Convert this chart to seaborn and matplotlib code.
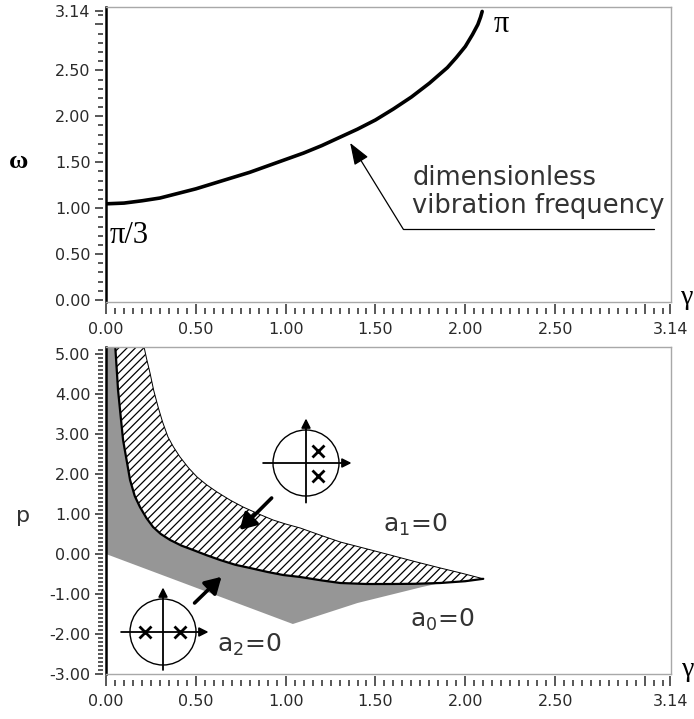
import numpy as np
import matplotlib
matplotlib.use("Agg")
import matplotlib.pyplot as plt
from matplotlib.patches import Circle
import seaborn as sns

# ---------------- data ----------------
# top panel: dimensionless vibration frequency omega(gamma)
gamma_w = [0.0, 0.10, 0.20, 0.30, 0.40, 0.50, 0.60, 0.70, 0.80, 0.90, 1.00,
           1.10, 1.20, 1.30, 1.40, 1.50, 1.60, 1.70, 1.80, 1.90, 1.95, 2.00,
           2.04, 2.07, 2.085, 2.094]
omega = [1.047, 1.055, 1.08, 1.11, 1.16, 1.21, 1.27, 1.33, 1.39, 1.46, 1.53,
         1.60, 1.68, 1.77, 1.86, 1.96, 2.08, 2.21, 2.36, 2.53, 2.64, 2.76,
         2.89, 3.00, 3.08, 3.1416]

# bottom panel: boundaries of the stability regions in the (gamma, p) plane
hatch_lo_x = [0.050, 0.067, 0.095, 0.134, 0.160, 0.189, 0.225, 0.262, 0.305,
              0.357, 0.420, 0.485, 0.560, 0.635, 0.720, 0.802, 0.900, 0.986,
              1.081, 1.200, 1.304, 1.450, 1.582, 1.720, 1.861, 2.000, 2.100]
hatch_lo_y = [5.30, 4.10, 2.85, 1.85, 1.45, 1.175, 0.90, 0.675, 0.50,
              0.35, 0.21, 0.10, -0.03, -0.15, -0.27, -0.35, -0.45, -0.525,
              -0.575, -0.66, -0.725, -0.75, -0.75, -0.745, -0.725, -0.68, -0.62]
hatch_up_x = [0.206, 0.225, 0.245, 0.265, 0.290, 0.315, 0.345, 0.375, 0.412,
              0.460, 0.507, 0.560, 0.618, 0.690, 0.763, 0.850, 0.930, 1.000,
              1.081, 1.200, 1.304, 1.450, 1.582, 1.720, 1.861, 1.980, 2.100]
hatch_up_y = [5.30, 4.90, 4.525, 4.10, 3.675, 3.30, 2.925, 2.68, 2.425,
              2.15, 1.925, 1.73, 1.55, 1.35, 1.175, 1.00, 0.85, 0.75,
              0.65, 0.46, 0.30, 0.13, -0.025, -0.19, -0.35, -0.48, -0.62]
gray_lo_x = [0.0, 1.04, 1.40, 1.76, 1.861]
gray_lo_y = [0.0, -1.75, -1.225, -0.825, -0.725]

# ticks / labels
x_major = [0.0, 0.5, 1.0, 1.5, 2.0, 2.5, 3.0, np.pi]
x_labels = ["0.00", "0.50", "1.00", "1.50", "2.00", "2.50", "", "3.14"]
w_major = [0.0, 0.5, 1.0, 1.5, 2.0, 2.5, 3.0, np.pi]
w_labels = ["0.00", "0.50", "1.00", "1.50", "2.00", "2.50", "", "3.14"]
p_major = [-3, -2, -1, 0, 1, 2, 3, 4, 5]
p_labels = ["-3.00", "-2.00", "-1.00", "0.00", "1.00", "2.00", "3.00", "4.00", "5.00"]

# ---------------- style ----------------
sns.set_theme(style="white")
plt.rcParams["font.family"] = ["DejaVu Sans"]
plt.rcParams["hatch.linewidth"] = 0.9
plt.rcParams["mathtext.fontset"] = "dejavusans"

W, H = 694, 719
fig = plt.figure(figsize=(W / 100, H / 100), dpi=100)
fig.patch.set_facecolor("white")


def rect(l, t, r, b):
    return [l / W, 1 - b / H, (r - l) / W, (b - t) / H]


ax1 = fig.add_axes(rect(106, 7, 671, 302))
ax2 = fig.add_axes(rect(106, 347, 671, 674))

TICK_C = "#2a2a2a"
LAB_C = "#2a2a2a"


def style_axes(ax, h_px, yt, yl, yminor):
    ax.set_facecolor("white")
    ax.set_xticks([])
    ax.set_yticks([])
    for s in ["top", "right", "bottom"]:
        ax.spines[s].set_color("#a8a8a8")
        ax.spines[s].set_linewidth(1.0)
    ax.spines["left"].set_color("black")
    ax.spines["left"].set_linewidth(1.8)
    # x ticks: detached row below the axis
    sx = ax.secondary_xaxis(-12.0 / h_px)
    sx.set_xticks(x_major)
    sx.set_xticklabels(x_labels)
    sx.set_xticks(np.arange(0, 3.11, 0.05), minor=True)
    for sp in sx.spines.values():
        sp.set_visible(False)
    sx.tick_params(which="major", direction="in", length=7.5, width=1.1,
                   color=TICK_C, pad=6, labelsize=11.5, labelcolor=LAB_C)
    sx.tick_params(which="minor", direction="in", length=4.0, width=1.1,
                   color=TICK_C)
    # y ticks: detached column left of the axis
    sy = ax.secondary_yaxis(-3.0 / 565)
    sy.set_yticks(yt)
    sy.set_yticklabels(yl)
    sy.set_yticks(yminor, minor=True)
    for sp in sy.spines.values():
        sp.set_visible(False)
    sy.tick_params(which="major", direction="out", length=6.0, width=1.1,
                   color=TICK_C, pad=3, labelsize=11.5, labelcolor=LAB_C)
    sy.tick_params(which="minor", direction="out", length=3.6, width=1.1,
                   color=TICK_C)


# ---------------- top panel ----------------
ax1.set_xlim(0, 3.145)
ax1.set_ylim(-0.022, 3.19)
sns.lineplot(x=gamma_w, y=omega, ax=ax1, color="black", lw=2.6,
             sort=False, estimator=None)
style_axes(ax1, 295, w_major, w_labels, np.arange(0, 3.11, 0.1))

serif = ["Liberation Serif", "DejaVu Serif"]
ax1.text(0.02, 0.62, "\u03c0/3", fontsize=22, family=serif, color="black",
         ha="left", va="baseline")
ax1.text(2.156, 2.92, "\u03c0", fontsize=22, family=serif, color="black",
         ha="left", va="baseline")
ax1.text(1.705, 1.25, "dimensionless", fontsize=18.5, color="#333333",
         ha="left", va="baseline")
ax1.text(1.705, 0.95, "vibration frequency", fontsize=18.5, color="#333333",
         ha="left", va="baseline")
ax1.plot([1.655, 3.05], [0.77, 0.77], color="black", lw=0.9)
ax1.annotate("", xy=(1.359, 1.71), xytext=(1.655, 0.77),
             arrowprops=dict(arrowstyle="-|>,head_length=0.9,head_width=0.33",
                             color="black", lw=0.9, mutation_scale=15,
                             shrinkA=0, shrinkB=0))

# ---------------- bottom panel ----------------
ax2.set_xlim(0, 3.145)
ax2.set_ylim(-3.0, 5.175)

gx = [0.0] + [x for x in hatch_lo_x if x <= 1.861] + gray_lo_x[::-1][1:]
gy = [5.30] + [y for x, y in zip(hatch_lo_x, hatch_lo_y) if x <= 1.861] + gray_lo_y[::-1][1:]
ax2.fill(gx, gy, facecolor="#969696", edgecolor="none", lw=0)

hx = hatch_up_x + hatch_lo_x[::-1][1:]
hy = hatch_up_y + hatch_lo_y[::-1][1:]
ax2.fill(hx, hy, facecolor="white", edgecolor="black", hatch="////", lw=0)
sns.lineplot(x=hatch_lo_x, y=hatch_lo_y, ax=ax2, color="black", lw=1.6,
             sort=False, estimator=None)
sns.lineplot(x=hatch_up_x, y=hatch_up_y, ax=ax2, color="black", lw=0.7,
             sort=False, estimator=None)

style_axes(ax2, 327, p_major, p_labels, np.arange(-3, 5.15, 0.1))

ax2.text(1.543, 0.55, r"a$_1$=0", fontsize=18, color="#333333",
         ha="left", va="baseline")
ax2.text(1.694, -1.825, r"a$_0$=0", fontsize=18, color="#333333",
         ha="left", va="baseline")
ax2.text(0.618, -2.45, r"a$_2$=0", fontsize=18, color="#333333",
         ha="left", va="baseline")

arrow_kw = dict(arrowstyle="-|>,head_length=0.6,head_width=0.35",
                color="black", lw=2.6, mutation_scale=16, shrinkA=0, shrinkB=0)
ax2.annotate("", xy=(0.744, 0.60), xytext=(0.922, 1.40), arrowprops=arrow_kw)
ax2.annotate("", xy=(0.643, -0.57), xytext=(0.493, -1.225), arrowprops=arrow_kw)

# root-locus icons
R = 33.0


def icon(cx, cy, hl, hr, vb, vt, xs, ys):
    a = fig.add_axes(rect(cx - 1.45 * R, cy - 1.45 * R, cx + 1.45 * R, cy + 1.45 * R))
    a.set_xlim(-1.45, 1.45)
    a.set_ylim(-1.45, 1.45)
    a.axis("off")
    a.patch.set_alpha(0)
    a.add_patch(Circle((0, 0), 1.0, fill=False, lw=1.0, color="black"))
    kw = dict(arrowstyle="-|>,head_length=0.6,head_width=0.3", color="black",
              lw=1.3, mutation_scale=9, shrinkA=0, shrinkB=0)
    a.annotate("", xy=(hr, 0), xytext=(hl, 0), arrowprops=kw)
    a.annotate("", xy=(0, vt), xytext=(0, vb), arrowprops=kw)
    a.plot(xs, ys, ls="none", marker="x", ms=8, mew=2.0, color="black")


icon(306, 463, -1.30, 1.38, -1.20, 1.35, [0.36, 0.36], [0.37, -0.39])
icon(163, 632, -1.27, 1.38, -1.15, 1.35, [-0.55, 0.52], [0.0, 0.0])

# axis letters
fig.text(19 / W, 1 - 162 / H, "\u03c9", fontsize=19, family=serif,
         weight="bold", ha="center", va="center", color="black")
fig.text(23 / W, 1 - 516 / H, "p", fontsize=16, color="#333333",
         ha="center", va="center")
fig.text(687 / W, 1 - 298 / H, "\u03b3", fontsize=20, family=serif,
         ha="center", va="center", color="black")
fig.text(688 / W, 1 - 670 / H, "\u03b3", fontsize=20, family=serif,
         ha="center", va="center", color="black")

fig.savefig("out.png", dpi=100)
